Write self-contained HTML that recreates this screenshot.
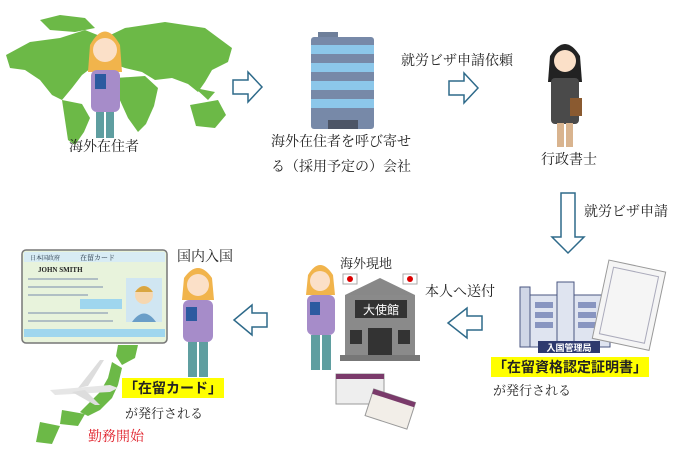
<!DOCTYPE html>
<html><head><meta charset="utf-8"><style>
body{margin:0;width:682px;height:455px;background:#fff;position:relative;overflow:hidden;font-family:"Liberation Serif","Noto Serif CJK SC","Noto Sans CJK JP",serif;color:#222}
.t{position:absolute;font-size:13px;white-space:nowrap;line-height:1}
.y{position:absolute;background:#ffff00;font-size:14px;font-weight:bold;font-family:"Liberation Sans","Noto Sans CJK JP",sans-serif;line-height:20px;padding:0 2px}
svg{position:absolute;left:0;top:0}
</style></head><body>
<svg width="682" height="455" viewBox="0 0 682 455">
<!-- world map -->
<g fill="#6cb947">
<path d="M6 55 L30 42 L60 38 L85 30 L105 38 L108 55 L95 65 L82 75 L72 88 L62 100 L52 95 L40 80 L25 70 L10 68 Z"/>
<path d="M40 20 L60 15 L85 18 L95 28 L75 32 L50 30 Z"/>
<path d="M62 100 L82 104 L90 118 L84 132 L75 145 L68 140 L65 120 Z"/>
<path d="M100 40 L125 28 L165 22 L205 28 L232 48 L228 62 L212 70 L205 82 L198 92 L188 84 L172 78 L155 80 L142 72 L125 68 L108 62 Z"/>
<path d="M115 78 L145 76 L158 88 L154 106 L146 124 L138 132 L128 118 L118 96 Z"/>
<path d="M190 105 L218 100 L226 115 L215 128 L196 126 Z"/>
<path d="M195 88 L215 92 L208 100 Z"/>
</g>
<!-- person 1 -->
<g>
<path d="M90 45 Q105 18 120 45 L122 72 L88 72 Z" fill="#f1b44c"/>
<circle cx="105" cy="50" r="12" fill="#fbe0c8"/>
<rect x="91" y="70" width="29" height="42" rx="6" fill="#a68cc9"/>
<rect x="95" y="74" width="11" height="15" fill="#2c5aa0"/>
<rect x="96" y="112" width="8" height="26" fill="#5f9ea0"/>
<rect x="106" y="112" width="8" height="26" fill="#5f9ea0"/>
</g>
<!-- arrows right -->
<path d="M233 80 L248 80 L248 72 L262 87 L248 102 L248 94 L233 94 Z" fill="#fff" stroke="#2e6a8a" stroke-width="1.5"/>
<path d="M449 81 L464 81 L464 73 L478 88 L464 103 L464 95 L449 95 Z" fill="#fff" stroke="#2e6a8a" stroke-width="1.5"/>
<!-- company building -->
<rect x="318" y="32" width="20" height="6" fill="#6e7f9a"/>
<rect x="311" y="37" width="63" height="92" rx="3" fill="#7789a8"/>
<g fill="#8cc7ea"><rect x="311" y="45" width="63" height="9"/><rect x="311" y="63" width="63" height="9"/><rect x="311" y="81" width="63" height="9"/><rect x="311" y="99" width="63" height="9"/></g>
<rect x="328" y="120" width="30" height="9" fill="#4d5566"/>
<!-- lawyer -->
<g>
<path d="M550 56 Q565 32 580 56 L582 82 L548 82 Z" fill="#222"/>
<circle cx="565" cy="61" r="11" fill="#fbe0c8"/>
<rect x="551" y="78" width="28" height="46" rx="4" fill="#4a4a4a"/>
<rect x="570" y="98" width="12" height="18" fill="#8a5a30"/>
<rect x="557" y="123" width="7" height="24" fill="#d9b48f"/>
<rect x="566" y="123" width="7" height="24" fill="#d9b48f"/>
</g>
<!-- down arrow -->
<path d="M561 193 L575 193 L575 237 L584 237 L568 253 L552 237 L561 237 Z" fill="#fff" stroke="#2e6a8a" stroke-width="1.5"/>
<!-- immigration building -->
<rect x="520" y="287" width="10" height="60" fill="#cfd6e6" stroke="#4a5680"/>
<rect x="530" y="295" width="80" height="52" fill="#dfe4f0" stroke="#4a5680"/>
<rect x="557" y="282" width="17" height="65" fill="#dfe4f0" stroke="#4a5680"/>
<g fill="#8895c0"><rect x="535" y="302" width="18" height="6"/><rect x="535" y="312" width="18" height="6"/><rect x="535" y="322" width="18" height="6"/><rect x="578" y="302" width="18" height="6"/><rect x="578" y="312" width="18" height="6"/><rect x="578" y="322" width="18" height="6"/></g>
<rect x="538" y="341" width="62" height="12" fill="#2e3a6e"/>
<text x="569" y="351" font-size="9" fill="#fff" text-anchor="middle" font-family="Noto Sans CJK JP,sans-serif" font-weight="bold">入国管理局</text>
<g transform="rotate(12 628 305)"><rect x="600" y="265" width="58" height="80" fill="#f5f5f5" stroke="#999"/><rect x="606" y="271" width="46" height="68" fill="none" stroke="#aab"/></g>
<!-- left arrows -->
<path d="M482 316 L467 316 L467 308 L448 323 L467 338 L467 330 L482 330 Z" fill="#fff" stroke="#2e6a8a" stroke-width="1.5"/>
<path d="M267 313 L252 313 L252 305 L234 320 L252 335 L252 327 L267 327 Z" fill="#fff" stroke="#2e6a8a" stroke-width="1.5"/>
<!-- embassy -->
<path d="M345 295 L380 278 L415 295 Z" fill="#888"/>
<rect x="345" y="295" width="70" height="60" fill="#8a8a8a"/>
<rect x="355" y="300" width="52" height="18" fill="#333"/>
<text x="381" y="314" font-size="12" fill="#fff" text-anchor="middle" font-family="Noto Sans CJK JP,sans-serif">大使館</text>
<rect x="368" y="328" width="24" height="27" fill="#333"/>
<rect x="350" y="330" width="12" height="14" fill="#333"/><rect x="398" y="330" width="12" height="14" fill="#333"/>
<rect x="340" y="355" width="80" height="6" fill="#777"/>
<rect x="343" y="274" width="14" height="10" fill="#fff" stroke="#aaa"/><circle cx="350" cy="279" r="3" fill="#d00"/>
<rect x="403" y="274" width="14" height="10" fill="#fff" stroke="#aaa"/><circle cx="410" cy="279" r="3" fill="#d00"/>
<!-- person 2 -->
<g>
<path d="M308 275 Q320 255 333 275 L335 295 L306 295 Z" fill="#f1b44c"/>
<circle cx="320" cy="281" r="10" fill="#fbe0c8"/>
<rect x="307" y="295" width="28" height="40" rx="6" fill="#a68cc9"/>
<rect x="310" y="302" width="10" height="13" fill="#2c5aa0"/>
<rect x="311" y="335" width="9" height="35" fill="#5f9ea0"/><rect x="322" y="335" width="9" height="35" fill="#5f9ea0"/>
</g>
<!-- visa cards -->
<rect x="336" y="374" width="48" height="30" fill="#eee" stroke="#999"/><rect x="336" y="374" width="48" height="5" fill="#7a3a6a"/>
<g transform="rotate(18 390 410)"><rect x="368" y="395" width="44" height="28" fill="#f2eee8" stroke="#999"/><rect x="368" y="395" width="44" height="5" fill="#7a3a6a"/></g>
<!-- person 3 -->
<g>
<path d="M184 278 Q198 258 212 278 L214 300 L182 300 Z" fill="#f1b44c"/>
<circle cx="198" cy="285" r="11" fill="#fbe0c8"/>
<rect x="183" y="300" width="30" height="42" rx="6" fill="#a68cc9"/>
<rect x="186" y="307" width="11" height="14" fill="#2c5aa0"/>
<rect x="188" y="342" width="9" height="35" fill="#5f9ea0"/><rect x="199" y="342" width="9" height="35" fill="#5f9ea0"/>
</g>
<!-- residence card -->
<rect x="22" y="250" width="145" height="93" rx="4" fill="#e8f3dc" stroke="#777" stroke-width="1.5"/>
<rect x="24" y="252" width="141" height="10" fill="#d8ecf4"/>
<text x="30" y="260" font-size="6" fill="#234">日本国政府</text><text x="80" y="260" font-size="7" fill="#234">在留カード</text>
<text x="38" y="272" font-size="7" fill="#222" font-weight="bold">JOHN SMITH</text>
<g fill="#9ab" opacity=".7"><rect x="28" y="278" width="70" height="2"/><rect x="28" y="286" width="75" height="2"/><rect x="28" y="294" width="60" height="2"/><rect x="28" y="312" width="80" height="2"/><rect x="28" y="320" width="85" height="2"/></g>
<rect x="80" y="299" width="42" height="10" fill="#9fd6ee"/>
<rect x="24" y="329" width="141" height="8" fill="#9fd6ee"/>
<rect x="126" y="278" width="36" height="44" fill="#d0e6f2"/>
<circle cx="144" cy="295" r="9" fill="#f6d7b0"/><path d="M135 292 Q144 280 153 292" fill="#d9a640"/>
<path d="M132 322 Q144 305 156 322 Z" fill="#6a9ec8"/>
<!-- japan map -->
<g fill="#6cb947">
<path d="M118 345 L138 345 L135 358 L122 365 L116 356 Z"/>
<path d="M112 362 L122 368 L118 385 L112 398 L100 410 L88 416 L80 412 L90 402 L100 392 L108 378 Z"/>
<path d="M62 410 L85 414 L78 426 L60 424 Z"/>
<path d="M40 422 L60 426 L52 444 L36 442 Z"/>
</g>
<path d="M50 390 L110 385 L118 388 L110 392 L55 395 Z" fill="#e6e6e6"/>
<path d="M72 392 L95 405 L100 405 L85 390 Z M78 388 L100 360 L104 360 L88 386 Z" fill="#ddd"/>
</svg>
<div class="t" style="left:69px;top:141px;font-size:14px">海外在住者</div>
<div class="t" style="left:271px;top:136px;font-size:14px">海外在住者を呼び寄せ</div>
<div class="t" style="left:271px;top:161px;font-size:14px">る（採用予定の）会社</div>
<div class="t" style="left:401px;top:55px;font-size:14px">就労ビザ申請依頼</div>
<div class="t" style="left:541px;top:154px;font-size:14px">行政書士</div>
<div class="t" style="left:584px;top:206px;font-size:14px">就労ビザ申請</div>
<div class="t" style="left:425px;top:286px;font-size:14px">本人へ送付</div>
<div class="t" style="left:340px;top:257px;font-size:13px">海外現地</div>
<div class="t" style="left:177px;top:251px;font-size:14px">国内入国</div>
<div class="y" style="left:491px;top:357px">「在留資格認定証明書」</div>
<div class="t" style="left:493px;top:384px;font-size:13px">が発行される</div>
<div class="y" style="left:122px;top:378px">「在留カード」</div>
<div class="t" style="left:125px;top:407px;font-size:13px">が発行される</div>
<div class="t" style="left:88px;top:431px;font-size:14px;color:#e0202a">勤務開始</div>
</body></html>
